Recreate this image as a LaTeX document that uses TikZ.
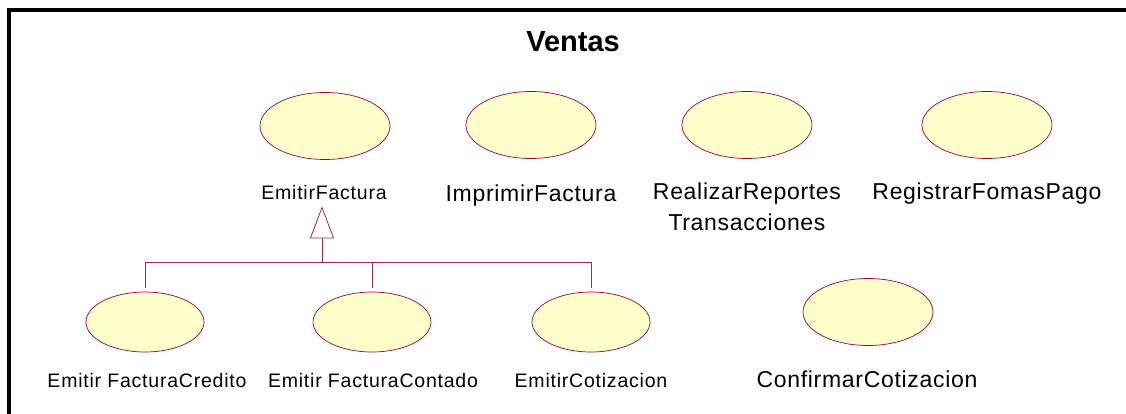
\documentclass[tikz,border=0pt]{standalone}
\usepackage{fontspec}
\setmainfont{Liberation Sans}
\newfontfamily\smallfont[LetterSpace=4]{Liberation Sans}
\newfontfamily\bigfont[LetterSpace=3]{Liberation Sans}
\usetikzlibrary{shapes.geometric,arrows.meta}
\definecolor{ucborder}{RGB}{160,0,55}
\definecolor{ucfill}{RGB}{255,255,204}
\definecolor{genline}{RGB}{165,40,80}
\begin{document}
\begin{tikzpicture}[x=1pt,y=-1pt]
\tikzstyle{usecase}=[ellipse,draw=ucborder,fill=ucfill,line width=0.7pt,inner sep=0pt,minimum width=130pt,minimum height=67pt]
\tikzstyle{subcase}=[usecase,minimum width=118pt,minimum height=60pt]
\tikzstyle{small label}=[inner sep=0pt,anchor=base,font={\smallfont\fontsize{19.5}{23}\selectfont}]
\tikzstyle{big label}=[inner sep=0pt,anchor=base,font={\bigfont\fontsize{23}{31}\selectfont}]
\tikzstyle{gen}=[draw=genline,line width=0.8pt,shorten <=4pt]
\useasboundingbox (0,0) rectangle (1126,414);
\draw[line width=4pt] (9,414) -- (9,10) -- (1126,10);
\node[inner sep=0pt,anchor=base,font={\fontsize{29}{34}\selectfont\bfseries}](title) at (573,52) {Ventas};
% top row
\node[usecase](u00) at (325,126) {};
\node[usecase](u01) at (531,125) {};
\node[usecase](u02) at (747,125) {};
\node[usecase](u03) at (987,125) {};
\node[small label](t00) at (324,200) {EmitirFactura};
\node[big label](t01) at (531,201) {ImprimirFactura};
\node[big label,anchor=north,align=center](t02) at (747,183) {RealizarReportes\\Transacciones};
\node[big label](t03) at (987,200) {RegistrarFomasPago};
% bottom row
\node[subcase](u10) at (145,322) {};
\node[subcase](u11) at (372,322) {};
\node[subcase](u12) at (591,322) {};
\node[usecase](u13) at (868,312) {};
\node[small label](t10) at (147,387) {Emitir FacturaCredito};
\node[small label](t11) at (373,387) {Emitir FacturaContado};
\node[small label](t12) at (591,387) {EmitirCotizacion};
\node[big label](t13) at (867,387) {ConfirmarCotizacion};
% generalization
\coordinate (bar) at (322,262);
\draw[gen] (u10.north) |- (bar);
\draw[gen] (u11.north) |- (bar);
\draw[gen] (u12.north) |- (bar);
\draw[gen,shorten <=0pt,shorten >=6pt,-{Triangle[open,length=32pt,width=24pt,line width=0.8pt]}] (bar) -- (bar |- t00.south);
\end{tikzpicture}
\end{document}
